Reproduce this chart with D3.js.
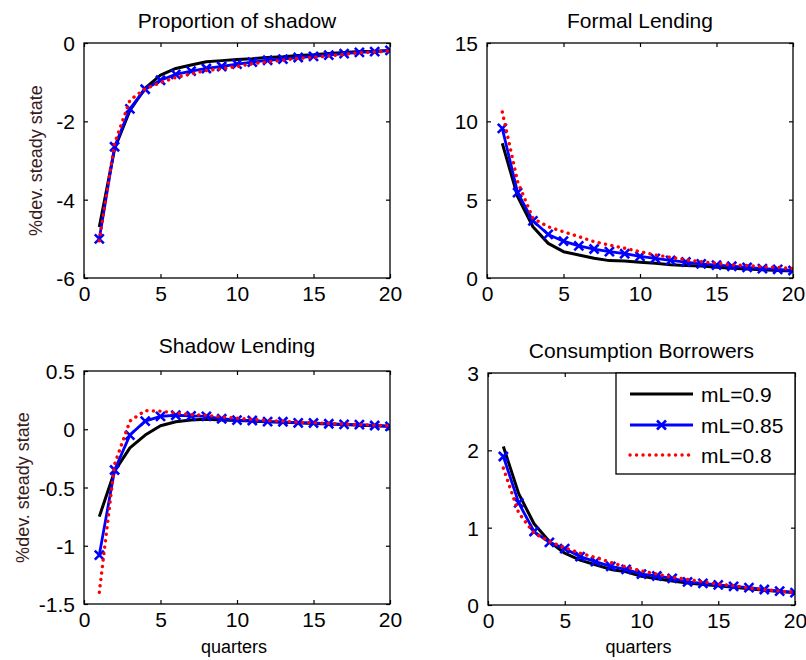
<!DOCTYPE html>
<html>
<head>
<meta charset="utf-8">
<script src="https://cdn.jsdelivr.net/npm/d3@7/dist/d3.min.js"></script>
<style>
  html, body { margin: 0; padding: 0; background: #fff; }
  svg { display: block; font-family: "Liberation Sans", Arial, sans-serif; }
</style>
</head>
<body>
<svg id="chart" width="806" height="660"></svg>
<script>
// ---------- DATA ----------
const quarters = [1,2,3,4,5,6,7,8,9,10,11,12,13,14,15,16,17,18,19,20];
const seriesNames = ["mL=0.9", "mL=0.85", "mL=0.8"];
const panelTitles = ["Proportion of shadow", "Formal Lending", "Shadow Lending", "Consumption Borrowers"];

// Proportion of shadow
const propShadow_09  = [-4.70,-2.70,-1.72,-1.15,-0.82,-0.65,-0.56,-0.48,-0.45,-0.42,-0.40,-0.37,-0.35,-0.32,-0.30,-0.27,-0.24,-0.22,-0.21,-0.19];
const propShadow_085 = [-5.00,-2.65,-1.68,-1.18,-0.95,-0.80,-0.72,-0.65,-0.60,-0.54,-0.49,-0.44,-0.41,-0.37,-0.34,-0.31,-0.27,-0.24,-0.22,-0.19];
const propShadow_08  = [-5.05,-2.56,-1.46,-1.17,-1.01,-0.88,-0.79,-0.70,-0.66,-0.60,-0.53,-0.48,-0.44,-0.39,-0.37,-0.33,-0.29,-0.25,-0.23,-0.20];

// Formal Lending
const formal_09  = [8.60,5.19,3.27,2.21,1.68,1.47,1.26,1.11,1.08,1.00,0.94,0.85,0.80,0.76,0.68,0.63,0.58,0.52,0.48,0.45];
const formal_085 = [9.55,5.45,3.65,2.78,2.35,2.05,1.85,1.68,1.55,1.38,1.25,1.12,1.02,0.90,0.82,0.75,0.68,0.60,0.55,0.48];
const formal_08  = [10.6,6.15,3.81,3.27,2.95,2.64,2.32,2.10,1.90,1.68,1.47,1.32,1.15,1.04,0.94,0.83,0.80,0.72,0.68,0.60];

// Shadow Lending
const shadow_09  = [-0.75,-0.36,-0.16,-0.05,0.03,0.065,0.08,0.085,0.08,0.075,0.07,0.065,0.06,0.055,0.05,0.045,0.04,0.035,0.03,0.025];
const shadow_085 = [-1.08,-0.35,-0.05,0.07,0.11,0.12,0.115,0.11,0.09,0.078,0.075,0.066,0.064,0.055,0.054,0.047,0.042,0.04,0.032,0.025];
const shadow_08  = [-1.40,-0.30,0.07,0.16,0.155,0.14,0.125,0.12,0.105,0.095,0.085,0.075,0.07,0.06,0.055,0.05,0.045,0.04,0.035,0.03];

// Consumption Borrowers
const cons_09  = [2.05,1.44,1.05,0.82,0.67,0.58,0.52,0.46,0.43,0.37,0.34,0.31,0.285,0.265,0.25,0.23,0.21,0.19,0.175,0.16];
const cons_085 = [1.92,1.32,0.95,0.81,0.73,0.625,0.56,0.50,0.46,0.40,0.375,0.345,0.30,0.28,0.26,0.24,0.225,0.20,0.18,0.16];
const cons_08  = [1.77,1.19,0.93,0.82,0.74,0.67,0.615,0.55,0.49,0.44,0.40,0.36,0.33,0.30,0.27,0.25,0.22,0.20,0.18,0.16];

const xTicks = [0,5,10,15,20];
const yTicks1 = [-6,-4,-2,0];
const yTicks2 = [0,5,10,15];
const yTicks3 = [-1.5,-1,-0.5,0,0.5];
const yTicks4 = [0,1,2,3];

// ---------- LAYOUT / STYLE ----------
const panels = [
  { title: panelTitles[0], series: [propShadow_09, propShadow_085, propShadow_08], yDomain: [-6,0], yTicks: yTicks1,
    x0: 84, x1: 390, y0: 278, y1: 43, titleY: 28, ylabel: true, xlabel: false, ylabelX: 42 },
  { title: panelTitles[1], series: [formal_09, formal_085, formal_08], yDomain: [0,15], yTicks: yTicks2,
    x0: 487, x1: 793, y0: 278, y1: 43, titleY: 28, ylabel: false, xlabel: false },
  { title: panelTitles[2], series: [shadow_09, shadow_085, shadow_08], yDomain: [-1.5,0.5], yTicks: yTicks3,
    x0: 84, x1: 390, y0: 604, y1: 371, titleY: 353, ylabel: true, xlabel: true, ylabelX: 29 },
  { title: panelTitles[3], series: [cons_09, cons_085, cons_08], yDomain: [0,3], yTicks: yTicks4,
    x0: 488, x1: 795, y0: 605, y1: 373, titleY: 358, ylabel: false, xlabel: true, legend: true }
];

const styles = [
  { color: "#000000", width: 3, dash: null, marker: false },
  { color: "#0000ff", width: 2.8, dash: null, marker: true },
  { color: "#ff0000", width: 3.4, dash: "0.1,6.4", cap: "round", marker: false }
];

const svg = d3.select("#chart");
const tickFont = 21, titleFont = 21, labelFont = 18;
const tickLen = 4;

function crossPath(s) {
  return `M${-s},${-s}L${s},${s}M${-s},${s}L${s},${-s}`;
}

panels.forEach((p, pi) => {
  const x = d3.scaleLinear().domain([0,20]).range([p.x0, p.x1]);
  const y = d3.scaleLinear().domain(p.yDomain).range([p.y0, p.y1]);
  const g = svg.append("g");

  const clipId = "clip" + pi;
  svg.append("clipPath").attr("id", clipId).append("rect")
    .attr("x", p.x0).attr("y", p.y1).attr("width", p.x1 - p.x0).attr("height", p.y0 - p.y1);

  const fmt = d => String(d).replace("\u2212", "-");
  const axB = d3.axisBottom(x).tickValues(xTicks).tickSizeInner(-tickLen).tickSizeOuter(0).tickPadding(9).tickFormat(fmt);
  const gB = g.append("g").attr("transform", `translate(0,${p.y0})`).call(axB);
  const axT = d3.axisTop(x).tickValues(xTicks).tickSizeInner(-tickLen).tickSizeOuter(0).tickFormat("");
  const gT = g.append("g").attr("transform", `translate(0,${p.y1})`).call(axT);
  const axL = d3.axisLeft(y).tickValues(p.yTicks).tickSizeInner(-tickLen).tickSizeOuter(0).tickPadding(9).tickFormat(fmt);
  const gL = g.append("g").attr("transform", `translate(${p.x0},0)`).call(axL);
  const axR = d3.axisRight(y).tickValues(p.yTicks).tickSizeInner(-tickLen).tickSizeOuter(0).tickFormat("");
  const gR = g.append("g").attr("transform", `translate(${p.x1},0)`).call(axR);

  [gB, gT, gL, gR].forEach(a => {
    a.select(".domain").remove();
    a.selectAll("line").attr("stroke", "#000").attr("stroke-width", 1.2);
    a.selectAll("text").attr("font-size", tickFont).attr("fill", "#000")
      .attr("font-family", "'Liberation Sans', Arial, sans-serif");
  });
  gB.selectAll("text").attr("dy", "0.68em");
  gL.selectAll("text").attr("dy", "0.36em");

  const lg = g.append("g").attr("clip-path", `url(#${clipId})`);
  p.series.forEach((vals, si) => {
    const st = styles[si];
    const pts = quarters.map((q, i) => [q, vals[i]]);
    const line = d3.line().x(d => x(d[0])).y(d => y(d[1]));
    const path = lg.append("path").datum(pts)
      .attr("d", line)
      .attr("fill", "none")
      .attr("stroke", st.color)
      .attr("stroke-width", st.width)
      .attr("stroke-linejoin", "round");
    if (st.dash) path.attr("stroke-dasharray", st.dash).attr("stroke-linecap", st.cap || "butt");
    if (st.marker) {
      lg.selectAll(null).data(pts).enter().append("path")
        .attr("transform", d => `translate(${x(d[0])},${y(d[1])})`)
        .attr("d", crossPath(4.5))
        .attr("fill", "none").attr("stroke", st.color).attr("stroke-width", 2.6);
    }
  });

  g.append("rect").attr("x", p.x0).attr("y", p.y1).attr("width", p.x1 - p.x0).attr("height", p.y0 - p.y1)
    .attr("fill", "none").attr("stroke", "#000").attr("stroke-width", 1.3);

  g.append("text").attr("x", (p.x0 + p.x1) / 2).attr("y", p.titleY)
    .attr("text-anchor", "middle").attr("font-size", titleFont).attr("fill", "#000").text(p.title);

  if (p.ylabel) {
    g.append("text")
      .attr("transform", `translate(${p.ylabelX},${(p.y0 + p.y1) / 2}) rotate(-90)`)
      .attr("text-anchor", "middle").attr("font-size", labelFont).attr("fill", "#3a1c1c")
      .text("%dev. steady state");
  }
  if (p.xlabel) {
    g.append("text").attr("x", (p.x0 + p.x1) / 2 - 3).attr("y", 653)
      .attr("text-anchor", "middle").attr("font-size", labelFont).attr("fill", "#000").text("quarters");
  }

  if (p.legend) {
    const lx0 = 616, ly0 = p.y1, lx1 = p.x1, ly1 = 474;
    const leg = g.append("g");
    leg.append("rect").attr("x", lx0).attr("y", ly0).attr("width", lx1 - lx0).attr("height", ly1 - ly0)
      .attr("fill", "#fff").attr("stroke", "#000").attr("stroke-width", 1.3);
    const rowsY = [394, 425, 455];
    seriesNames.forEach((name, si) => {
      const st = styles[si];
      const ly = rowsY[si];
      const l = leg.append("line").attr("x1", 630).attr("x2", 693).attr("y1", ly).attr("y2", ly)
        .attr("stroke", st.color).attr("stroke-width", st.width);
      if (st.dash) l.attr("stroke-dasharray", st.dash).attr("stroke-linecap", st.cap || "butt");
      if (st.marker) {
        leg.append("path").attr("transform", `translate(661.5,${ly})`).attr("d", crossPath(4.5))
          .attr("fill", "none").attr("stroke", st.color).attr("stroke-width", 2.6);
      }
      leg.append("text").attr("x", 701).attr("y", ly).attr("dy", "0.36em")
        .attr("font-size", tickFont).attr("fill", "#000").text(name);
    });
  }
});
</script>
</body>
</html>
